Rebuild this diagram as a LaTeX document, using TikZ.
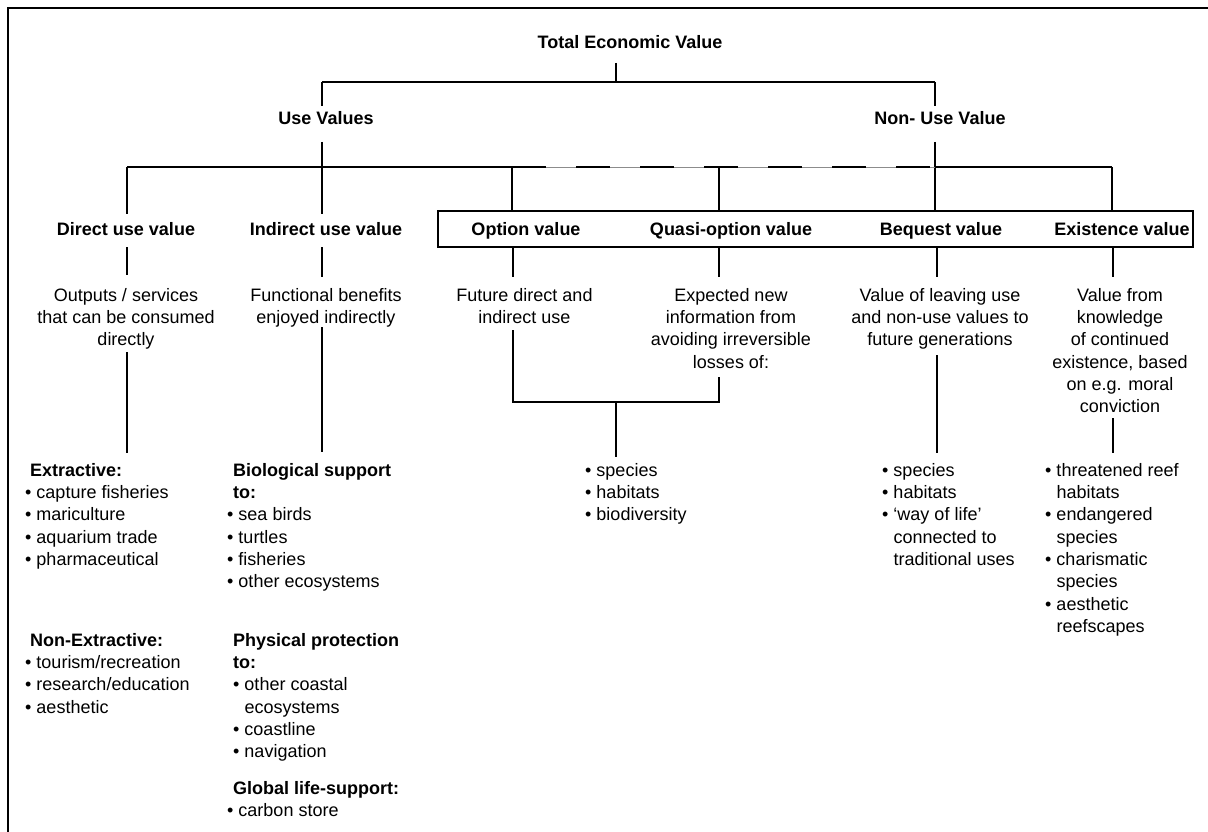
\documentclass[tikz,border=0pt]{standalone}
\usepackage{fontspec}
\setmainfont{Liberation Sans}
\newcommand{\ind}{\hphantom{•\ }}
\begin{document}
\begin{tikzpicture}[x=1pt,y=-1pt,
  lbl/.style={font=\fontsize{18}{22.3}\selectfont\bfseries, inner sep=0pt, anchor=base},
  desc/.style={font=\fontsize{18}{22.3}\selectfont, inner sep=0pt, anchor=north, align=center},
  lst/.style={font=\fontsize{18}{22.3}\selectfont, inner sep=0pt, anchor=north west, align=left},
  conn/.style={line width=2pt},
  frame/.style={line width=2.6pt},
  dashpart/.style={line width=2pt, dash pattern=on 34pt off 30pt},
  thinpart/.style={line width=0.8pt, black!45}]
\useasboundingbox (0,0) rectangle (1208,832);
% frame
\coordinate (fa) at (8,845);
\coordinate (fb) at (8,8);
\coordinate (fc) at (1220,8);
\draw[frame] (fa) -- (fb) -- (fc);

% headings
\node[lbl] (tev) at (630,49) {Total Economic Value};
\node[lbl] (use) at (326,125) {Use Values};
\node[lbl] (nonuse) at (940,125) {Non- Use Value};
\node[lbl] (direct) at (126,235) {Direct use value};
\node[lbl] (indirect) at (326,235) {Indirect use value};
\node[lbl] (option) at (526,235) {Option value};
\node[lbl] (quasi) at (731,235) {Quasi-option value};
\node[lbl] (bequest) at (941,235) {Bequest value};
\node[lbl] (exist) at (1122,235) {Existence value};

% box round the four right-hand headings
\coordinate (boxa) at (438,211);
\coordinate (boxb) at (1193,247);
\draw[conn] (boxa) rectangle (boxb);

% descriptions
\node[desc] (ddesc) at (126,285.4) {\strut Outputs / services\\that can be consumed\\directly};
\node[desc] (idesc) at (326,285.4) {\strut Functional benefits\\enjoyed indirectly};
\node[desc] (odesc) at (524.5,285.4) {\strut Future direct and\\indirect use};
\node[desc] (qdesc) at (731,285.4) {\strut Expected new\\information from\\avoiding irreversible\\losses of:};
\node[desc] (bdesc) at (940,285.4) {\strut Value of leaving use\\and non-use values to\\future generations};
\node[desc] (edesc) at (1120,285.4) {\strut Value from\\knowledge\\of continued\\existence, based\\on e.g. moral\\conviction};

% lists
\node[lst] (ext) at (25,460.4) {\strut\hspace*{5pt}\textbf{Extractive:}\\• capture fisheries\\• mariculture\\• aquarium trade\\• pharmaceutical};
\node[lst] (nonext) at (25,630.4) {\strut\hspace*{5pt}\textbf{Non-Extractive:}\\• tourism/recreation\\• research/education\\• aesthetic};
\node[lst] (bio) at (227,460.4) {\strut\hspace*{6pt}\textbf{Biological support}\\\hspace*{6pt}\textbf{to:}\\• sea birds\\• turtles\\• fisheries\\• other ecosystems};
\node[lst] (phys) at (227,630.4) {\strut\hspace*{6pt}\textbf{Physical protection}\\\hspace*{6pt}\textbf{to:}\\\hspace*{6pt}• other coastal\\\hspace*{6pt}\ind ecosystems\\\hspace*{6pt}• coastline\\\hspace*{6pt}• navigation};
\node[lst] (glob) at (227,778.4) {\strut\hspace*{6pt}\textbf{Global life-support:}\\• carbon store};
\node[lst] (midl) at (585,460.4) {\strut• species\\• habitats\\• biodiversity};
\node[lst] (beql) at (882,460.4) {\strut• species\\• habitats\\• ‘way of life’\\\ind connected to\\\ind traditional uses};
\node[lst] (exl) at (1045,460.4) {\strut• threatened reef\\\ind habitats\\• endangered\\\ind species\\• charismatic\\\ind species\\• aesthetic\\\ind reefscapes};

% junction points
\coordinate (t0) at (616,63);
\coordinate (t1) at (616,82);
\coordinate (ua) at (322,82);
\coordinate (na) at (935,82);
\coordinate (ub) at (322,106);
\coordinate (nb) at (935,106);
\coordinate (uc) at (322,142);
\coordinate (nc) at (935,142);
\coordinate (ud) at (322,167);
\coordinate (nd) at (935,167);
\coordinate (da) at (127,167);
\coordinate (oa) at (512,167);
\coordinate (qa) at (719,167);
\coordinate (ea) at (1112,167);
\coordinate (db) at (127,214);
\coordinate (ib) at (322,214);
\coordinate (ob) at (512,211);
\coordinate (qb) at (719,211);
\coordinate (nbx) at (935,211);
\coordinate (eb) at (1112,211);

% connectors, top levels
\draw[conn] (t0) -- (t1);
\draw[conn] (ua) -- (na);
\draw[conn] (ua) -- (ub);
\draw[conn] (na) -- (nb);
\draw[conn] (uc) -- (ud);
\draw[conn] (nc) -- (nbx);
\draw[conn] (da) -- (oa);
\draw[thinpart] (oa) -- (nd);
\draw[dashpart] (oa) -- (nd);
\draw[conn] (nd) -- (ea);
\draw[conn] (da) -- (db);
\draw[conn] (ud) -- (ib);
\draw[conn] (oa) -- (ob);
\draw[conn] (qa) -- (qb);
\draw[conn] (ea) -- (eb);

% connectors from headings to descriptions
\coordinate (dc) at (127,247);   \coordinate (dd) at (127,275);
\coordinate (ic) at (322,247);   \coordinate (id) at (322,277);
\coordinate (oc) at (513,247);   \coordinate (od) at (513,277);
\coordinate (qc) at (719,247);   \coordinate (qd) at (719,277);
\coordinate (bc) at (937,247);   \coordinate (bd) at (937,277);
\coordinate (ec) at (1113,247);  \coordinate (ed) at (1113,277);
\draw[conn] (dc) -- (dd);
\draw[conn] (ic) -- (id);
\draw[conn] (oc) -- (od);
\draw[conn] (qc) -- (qd);
\draw[conn] (bc) -- (bd);
\draw[conn] (ec) -- (ed);

% connectors from descriptions to lists
\coordinate (de) at (127,352);   \coordinate (df) at (127,453);
\coordinate (ie) at (322,327);   \coordinate (if) at (322,452);
\coordinate (oe) at (513,330);   \coordinate (of) at (513,402);
\coordinate (qe) at (719,377);   \coordinate (qf) at (719,402);
\coordinate (me) at (616,402);   \coordinate (mf) at (616,457);
\coordinate (be) at (937,355);   \coordinate (bf) at (937,453);
\coordinate (ee) at (1113,418);  \coordinate (ef) at (1113,453);
\draw[conn] (de) -- (df);
\draw[conn] (ie) -- (if);
\draw[conn] (oe) -- (of) -- (qf) -- (qe);
\draw[conn] (me) -- (mf);
\draw[conn] (be) -- (bf);
\draw[conn] (ee) -- (ef);
\end{tikzpicture}
\end{document}
